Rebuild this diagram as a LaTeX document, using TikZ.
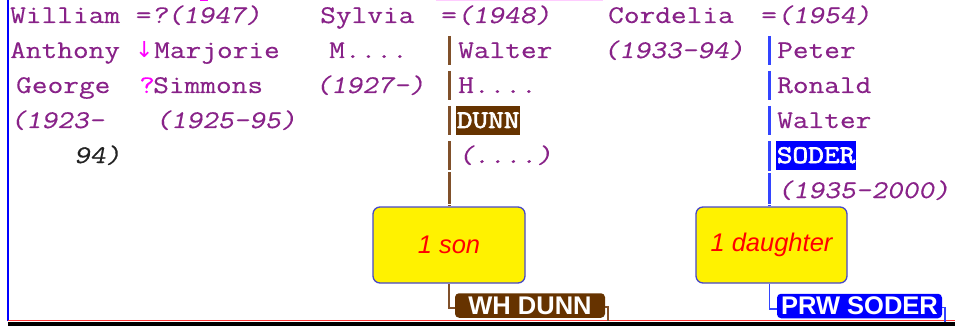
\documentclass[tikz,border=0pt]{standalone}
\usepackage{fontspec}
\newfontfamily\monof[FakeStretch=1.2,FakeBold=0.35]{Latin Modern Mono}
\newfontfamily\monosl[FakeStretch=1.2,FakeBold=0.35,FakeSlant=0.2]{Latin Modern Mono}
\newfontfamily\monobf[FakeStretch=1.2,FakeBold=2.6]{Latin Modern Mono}
\newfontfamily\sansf{Liberation Sans}
\newfontfamily\dejaf{DejaVu Sans}
\definecolor{txtpurple}{HTML}{882288}
\definecolor{magentaT}{HTML}{FF00FF}
\definecolor{darkT}{HTML}{222222}
\definecolor{brownbox}{HTML}{663300}
\definecolor{brownbar}{HTML}{80502A}
\definecolor{bluebar}{HTML}{3344FF}
\definecolor{boxborder}{HTML}{4848C8}
\newcommand\mt{\monof\fontsize{25.4pt}{30pt}\selectfont}
\newcommand\mtsl{\monosl\fontsize{25.4pt}{30pt}\selectfont}
\newcommand\mtb{\monobf\fontsize{25.4pt}{30pt}\selectfont}
\tikzset{
  txt/.style={anchor=base west, inner sep=0pt, text=txtpurple, font=\mt},
  itxt/.style={txt, font=\mtsl},
  hl/.style={anchor=base west, inner xsep=0.6pt, inner ysep=0pt, text height=22pt, text depth=7pt, text=white, font=\mtb},
  brbar/.style={draw=brownbar, line width=3pt},
  blbar/.style={draw=bluebar, line width=2.5pt},
  ybox/.style={draw=boxborder, line width=1.3pt, fill=yellow, rounded corners=7pt, minimum height=76pt, inner sep=0pt, text=red, font=\sansf\itshape\fontsize{25.5pt}{28pt}\selectfont},
  namebox/.style={rounded corners=4pt, minimum height=24.5pt, inner sep=0pt, text=white, font=\sansf\bfseries\fontsize{25.5pt}{28pt}\selectfont},
  brconn/.style={draw=brownbar, line width=1.6pt},
  blconn/.style={draw=bluebar, line width=1.6pt}
}
\begin{document}
\begin{tikzpicture}[x=1pt,y=-1pt]
\useasboundingbox (0,0) rectangle (955,326);
% frame pieces
\fill[magentaT] (200,0) rectangle (208,1.5);
\fill[magentaT!20] (436,0) rectangle (603,1.5);
\draw[blue, line width=1.3pt] (8,0) -- (8,321);
\fill[black] (8,321.5) rectangle (955,326);
\draw[red!80, line width=1pt] (8,320.8) -- (955,320.8);
% column 1
\node[txt] (w1) at (10,23) {William =\mtsl ?(1947)};
\node[txt] (w2) at (10,58) {Anthony};
\node[anchor=base west, inner sep=0pt, text=magentaT, font=\dejaf\fontsize{22pt}{26pt}\selectfont] (arr) at (135,58) {↓};
\node[txt] (m2) at (154,58) {Marjorie};
\node[txt] (w3) at (16,93) {George};
\node[txt, text=magentaT] (q3) at (139,93) {?};
\node[txt] (m3) at (153,93) {Simmons};
\node[itxt] (w4) at (10,128) {(1923-};
\node[itxt] (m4) at (155,128) {(1925-95)};
\node[itxt, text=darkT] (w5) at (74,163) {94)};
% column 2
\node[txt] (s1) at (320,23) {Sylvia};
\node[txt] (s1b) at (441,23) {=\mtsl(1948)};
\node[txt] (s2) at (329,58) {M....};
\node[itxt] (s3) at (315,93) {(1927-)};
\node[txt] (h2) at (458,58) {Walter};
\node[txt] (h3) at (458,93) {H....};
\node[hl, fill=brownbox] (h4) at (456,128) {DUNN};
\node[itxt] (h5) at (458,163) {(....)};
% column 3
\node[txt] (c1) at (608,23) {Cordelia};
\node[txt] (c1b) at (761,23) {=\mtsl(1954)};
\node[itxt] (c2) at (603,58) {(1933-94)};
\node[txt] (p2) at (777,58) {Peter};
\node[txt] (p3) at (777,93) {Ronald};
\node[txt] (p4) at (777,128) {Walter};
\node[hl, fill=blue] (p5) at (776,163) {SODER};
\node[itxt] (p6) at (777,198) {(1935-2000)};
% child boxes
\node[ybox, minimum width=152pt] (son) at (449,245) {1 son};
\node[ybox, minimum width=151pt] (dau) at (771.5,245) {1 daughter};
\node[namebox, fill=brownbox, minimum width=150pt] (wh) at (530,305.5) {WH DUNN};
\node[namebox, fill=blue, minimum width=165pt] (prw) at (859.5,306) {PRW SODER};
\coordinate (bb) at (769.5,0);
% bars
\foreach \a/\b in {36/65,71/100,106/135,141/170,172/204}
  \draw[brbar] (449,\a) -- (449,\b);
\draw[brbar] (449,205) -- (son.north);
\foreach \a/\b in {36/65,71/100,106/135,141/171,173/204}
  \draw[blbar] (769.5,\a) -- (769.5,\b);
\draw[blbar] (769.5,205) -- (dau.north -| bb);
% connectors
\draw[brconn] (son.south) |- ([yshift=-2.5pt]wh.west);
\draw[brconn] ([yshift=-1.5pt]wh.east) -- ++(2.5,0) -- ++(0,14);
\draw[blconn] (dau.south -| bb) |- ([yshift=-3pt]prw.west);
\draw[blconn] ([yshift=-1.5pt]prw.east) -- ++(2.5,0) -- ++(0,14);
\end{tikzpicture}
\end{document}
